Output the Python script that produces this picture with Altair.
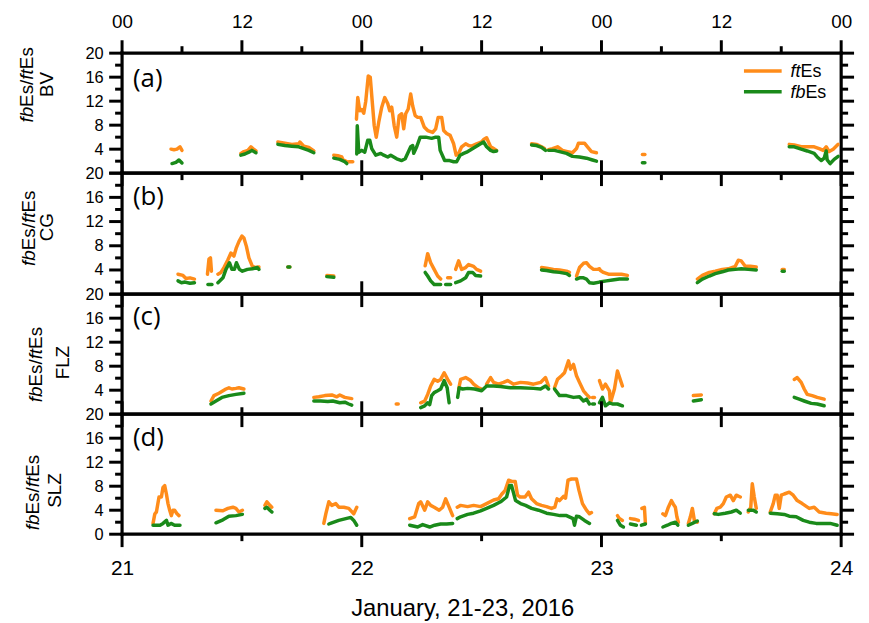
import altair as alt
import pandas as pd

# ---- data: (hours after 21 Jan 00:00 UT, frequency MHz); None = data gap ----
BV_ft = [(4.9,4.0),(5.2,3.9),(5.5,4.0),(5.8,4.4),(6.0,3.8), None,
 (11.9,3.3),(12.2,3.6),(12.6,3.8),(12.9,4.4),(13.1,4.1),(13.4,3.7), None,
 (15.6,5.2),(16.3,5.0),(17.0,4.8),(17.7,4.9),(17.8,5.2),(18.2,4.5),(18.7,4.3),(19.2,3.7), None,
 (21.2,3.0),(21.6,2.9),(22.0,2.7),(22.1,2.3),(22.5,1.9), None,
 (22.7,1.9),(23.1,1.9), None,
 (23.47,9.0),(23.6,12.6),(23.8,10.4),(24.0,10.6),(24.2,10.0),(24.4,12.0),(24.65,16.2),(24.85,16.0),(25.0,12.9),(25.25,7.9),
 (25.45,6.0),(25.7,8.5),(26.0,11.0),(26.3,12.6),(26.6,11.6),(26.8,10.4),(27.0,11.0),(27.25,7.9),(27.5,6.0),(27.75,9.6),
 (28.0,9.9),(28.2,7.4),(28.4,9.9),(28.65,10.7),(28.9,13.2),(29.1,11.2),(29.35,9.6),(29.6,9.3),(29.9,9.3),(30.25,7.7),
 (30.6,7.1),(31.1,6.8),(31.4,7.4),(31.65,9.3),(32.0,9.3),(32.2,7.1),(32.5,6.6),(32.85,6.3),(33.2,4.9),(33.45,3.0),
 (33.7,3.3),(34.0,4.4),(34.4,4.9),(34.7,4.6),(35.0,4.5),(35.5,4.9),(36.0,5.2),(36.2,5.6),(36.5,5.9),(36.9,4.4),
 (37.2,4.1),(37.5,3.8), None,
 (41.0,4.9),(41.5,4.8),(42.0,4.4),(42.3,4.1), None,
 (42.7,3.9),(43.1,4.1),(43.6,4.4),(44.1,3.8),(44.6,3.6),(45.1,3.4),(45.5,4.1),(45.7,5.0),(46.3,5.0),(46.6,4.4),(47.0,3.6),(47.5,3.4), None,
 (52.1,3.1),(52.35,3.1), None,
 (66.8,4.8),(67.3,4.7),(68.0,4.4),(68.6,4.4),(69.3,4.4),(69.8,4.1),(70.2,3.8),(70.5,4.4),(70.8,3.6),(71.2,4.0),(71.7,4.8)]

BV_fb = [(5.0,1.6),(5.4,1.8),(5.7,2.2),(6.0,1.7), None,
 (11.9,3.0),(12.3,3.2),(12.7,3.5),(13.0,3.8),(13.4,3.4), None,
 (15.6,4.8),(16.3,4.6),(17.0,4.5),(17.7,4.4),(18.2,4.1),(18.7,3.8),(19.2,3.4), None,
 (21.2,2.5),(21.8,2.3),(22.3,1.9),(22.5,1.6), None,
 (23.5,3.2),(23.55,7.9),(23.7,3.5),(24.0,3.8),(24.3,3.5),(24.6,5.5),(24.8,5.5),(25.0,4.1),(25.4,3.0),(25.9,3.3),
 (26.2,3.0),(26.6,2.7),(26.9,3.0),(27.2,2.7),(27.5,2.4),(28.0,2.1),(28.35,2.4),(28.9,4.4),(29.1,4.6),(29.2,3.3),
 (29.5,4.4),(29.85,6.0),(30.4,6.0),(31.0,5.8),(31.4,6.0),(31.7,6.0),(31.85,3.8),(32.3,2.1),(32.8,2.1),(33.2,1.9),
 (33.5,1.9),(33.85,3.0),(34.2,3.3),(34.5,3.5),(35.2,4.2),(35.9,4.9),(36.2,5.2),(36.5,4.4),(36.9,3.8),(37.2,3.6),(37.5,3.7), None,
 (41.0,4.7),(41.5,4.6),(42.0,4.3),(42.4,3.8), None,
 (42.7,3.8),(43.3,3.8),(43.8,3.6),(44.5,3.3),(45.1,2.8),(45.8,2.7),(46.5,2.5),(47.1,2.2),(47.5,2.0), None,
 (52.1,1.75),(52.35,1.75), None,
 (66.8,4.4),(67.3,4.4),(68.0,4.0),(68.6,3.7),(69.3,3.3),(69.6,2.7),(70.0,2.1),(70.3,2.5),(70.5,3.7),(70.6,2.2),(70.9,1.6),(71.3,2.3),(71.7,2.8)]

CG_ft = [(5.6,3.3),(6.1,3.1),(6.4,2.6),(6.8,2.7),(7.25,2.5), None,
 (8.55,3.3),(8.7,5.8),(8.85,6.0),(8.95,3.8), None,
 (9.6,3.3),(9.9,3.6),(10.2,4.4),(10.6,5.7),(10.9,6.8),(11.2,6.3),(11.45,7.7),(11.7,8.7),(12.0,9.6),(12.2,9.3),(12.45,7.9),(12.7,6.0),(13.05,4.6),(13.4,4.4),(13.7,4.5), None,
 (16.6,4.5),(16.8,4.5), None,
 (20.5,3.1),(21.2,3.0), None,
 (30.35,4.7),(30.6,6.7),(30.9,5.2),(31.25,4.1),(31.6,3.0),(31.9,2.5), None,
 (32.6,2.7),(32.9,2.7), None,
 (33.4,4.1),(33.7,5.5),(34.0,4.1),(34.4,4.4),(34.7,4.9),(35.2,4.6),(35.5,4.1),(35.9,3.8), None,
 (42.0,4.4),(42.5,4.3),(43.2,4.1),(43.8,4.0),(44.5,3.8),(44.8,3.6), None,
 (45.5,3.0),(45.8,4.4),(46.2,5.1),(46.5,5.2),(46.8,4.6),(47.2,4.1),(47.6,4.1),(47.8,4.2),(47.9,3.9),(48.2,3.6),(48.7,3.3),(49.4,3.3),(50.0,3.3),(50.6,3.1), None,
 (57.6,2.5),(58.1,3.1),(58.8,3.6),(59.4,3.8),(60.1,4.1),(60.7,4.2),(61.4,4.6),(61.7,5.6),(62.0,5.5),(62.4,4.6),(62.9,4.6),(63.5,4.5), None,
 (66.1,4.1),(66.3,4.1)]

CG_fb = [(5.6,2.2),(5.95,1.9),(6.3,2.0),(6.8,1.8),(7.25,1.9), None,
 (8.6,1.6),(9.0,1.6), None,
 (9.6,1.9),(10.1,2.7),(10.4,4.1),(10.75,5.2),(11.0,4.1),(11.25,4.1),(11.45,5.2),(11.75,4.1),(12.05,3.8),(12.55,4.1),(13.05,4.2),(13.55,4.4),(13.7,4.1), None,
 (16.6,4.5),(16.8,4.5), None,
 (20.5,2.9),(21.2,2.8), None,
 (30.35,3.6),(30.6,3.0),(30.9,2.2),(31.25,1.6),(31.9,1.6), None,
 (32.4,1.6),(32.9,1.6), None,
 (33.4,1.9),(33.9,2.2),(34.4,2.7),(34.7,3.6),(35.1,3.6),(35.4,3.1),(35.9,3.0), None,
 (42.0,4.0),(42.5,3.9),(43.2,3.7),(43.8,3.6),(44.5,3.4),(44.8,3.1), None,
 (45.5,2.5),(45.8,2.7),(46.2,2.7),(46.5,2.5),(46.8,1.9),(47.2,1.8),(47.8,2.0),(48.5,2.2),(49.1,2.35),(49.8,2.5),(50.6,2.5), None,
 (57.6,1.9),(58.1,2.5),(58.8,3.0),(59.4,3.4),(60.1,3.7),(60.7,4.0),(61.4,4.1),(62.0,4.2),(62.7,4.1),(63.5,4.0), None,
 (66.1,3.8),(66.3,3.8)]

FLZ_ft = [(8.9,2.2),(9.2,3.1),(9.7,3.5),(10.4,4.2),(10.7,4.4),(11.0,4.2),(11.4,4.3),(11.7,4.4),(12.2,4.2), None,
 (19.2,2.8),(19.7,2.9),(20.3,3.1),(21.0,3.2),(21.5,2.9),(21.8,3.2),(22.3,2.8),(23.0,2.6), None,
 (27.45,1.7),(27.65,1.7), None,
 (29.9,1.9),(30.3,2.2),(30.6,3.3),(30.9,4.7),(31.25,5.8),(31.6,5.5),(31.9,5.8),(32.25,6.9),(32.6,5.8),(32.9,5.0), None,
 (33.7,4.2),(33.9,5.8),(34.4,6.1),(34.9,5.6),(35.2,5.0),(35.7,4.4),(36.0,4.2), None,
 (36.5,5.0),(36.9,6.1),(37.2,5.3),(37.7,5.0),(38.2,5.3),(38.6,5.6),(39.2,5.0),(39.9,5.3),(40.6,5.2),(41.2,5.0),(41.9,5.3),(42.4,6.1),(42.7,4.7), None,
 (43.3,4.4),(43.6,5.8),(44.0,6.4),(44.3,6.9),(44.7,8.9),(44.9,7.5),(45.2,8.3),(45.5,6.4),(45.8,5.3),(46.2,3.9),(46.5,3.3),(46.8,2.8), None,
 (47.1,2.8),(47.3,2.8), None,
 (47.8,5.6),(48.1,4.2),(48.4,5.0),(48.8,3.9),(48.9,1.9),(49.3,4.2),(49.6,7.2),(50.1,4.7), None,
 (57.2,3.1),(58.0,3.2), None,
 (67.3,5.8),(67.6,6.1),(68.0,5.3),(68.3,4.2),(68.6,3.3),(69.1,3.1),(69.6,2.8),(70.3,2.5)]

FLZ_fb = [(8.9,1.7),(9.4,2.2),(10.0,2.8),(10.7,3.1),(11.4,3.3),(12.2,3.5), None,
 (19.2,2.2),(19.9,2.2),(20.6,2.1),(21.1,2.2),(21.8,1.9),(22.3,2.0),(22.7,1.7),(23.0,1.5), None,
 (29.9,1.1),(30.3,1.4),(30.6,1.9),(30.8,1.6),(31.0,3.1),(31.25,3.6),(31.6,3.9),(31.9,4.2),(32.25,5.6),(32.55,4.4),(32.75,1.9), None,
 (33.6,2.8),(33.75,4.4),(34.1,4.2),(34.6,4.3),(35.3,4.2),(36.0,3.9),(36.5,4.7),(37.2,4.7),(37.9,4.6),(38.9,4.4),(39.9,4.4),(41.2,4.3),(41.9,4.2),(42.4,4.7),(42.7,4.2), None,
 (43.3,4.2),(43.8,3.1),(44.5,3.1),(45.2,2.8),(45.8,2.9),(46.2,2.2),(46.5,2.5),(46.8,1.7), None,
 (47.1,1.7),(47.3,1.7), None,
 (47.8,1.9),(48.1,2.8),(48.4,1.4),(48.8,1.9),(49.1,1.7),(49.6,1.7),(50.1,1.4), None,
 (57.2,2.2),(58.0,2.4), None,
 (67.3,2.8),(67.8,2.5),(68.3,2.2),(69.0,1.8),(69.6,1.7),(70.3,1.4)]

SLZ_ft = [(3.1,1.8),(3.28,3.4),(3.44,3.7),(3.7,6.2),(3.94,6.2),(4.1,7.8),(4.27,8.1),(4.44,6.7),(4.6,5.1),(4.77,4.0),(4.93,3.1),(5.1,4.0),(5.26,4.0),(5.5,3.4),(5.7,3.1), None,
 (9.4,4.0),(10.1,3.9),(10.6,4.3),(11.1,4.5),(11.4,4.3),(11.7,3.7),(12.05,4.0), None,
 (14.3,4.8),(14.5,5.4),(14.8,4.8),(15.0,4.5), None,
 (20.2,1.8),(20.4,3.4),(20.7,5.4),(21.0,4.8),(21.4,5.1),(21.7,4.5),(22.2,4.5),(22.7,4.3),(23.2,3.4),(23.5,4.5), None,
 (28.8,2.6),(29.3,2.9),(29.7,5.1),(29.9,5.4),(30.3,4.0),(30.6,5.4),(30.9,4.8),(31.25,4.5),(31.75,4.0),(32.1,4.5),(32.4,5.9),(32.75,4.5),(33.1,3.1), None,
 (33.56,4.5),(33.9,4.8),(34.6,4.6),(35.2,4.8),(35.9,4.6),(36.5,5.1),(37.2,5.7),(37.7,5.9),(38.03,6.7),(38.36,7.3),(38.7,9.0),(39.03,8.8),(39.36,8.8),(39.6,6.5),(39.85,6.2),(40.35,6.2),(40.7,7.0),(41.0,5.9),(41.5,5.1),(42.0,4.8),(42.5,4.6),(43.0,4.3),(43.33,4.5),(43.56,5.9),(43.8,5.6),(44.2,6.3),(44.4,6.0),(44.65,9.0),(45.0,9.2),(45.5,9.2),(45.75,7.3),(46.1,5.1),(46.5,4.0),(46.8,3.4),(47.0,3.6), None,
 (49.6,3.1),(49.8,2.6),(50.1,2.3), None,
 (50.9,2.6),(51.3,2.5),(51.7,2.3), None,
 (52.05,4.3),(52.3,4.5),(52.4,1.8), None,
 (54.15,3.4),(54.4,3.1),(54.7,4.5),(55.0,5.6),(55.2,5.0),(55.4,4.5),(55.55,2.9),(55.7,2.0), None,
 (56.7,1.8),(56.9,2.9),(57.1,4.3),(57.3,2.3),(57.6,2.0), None,
 (59.3,3.4),(59.55,4.3),(59.9,4.5),(60.2,5.1),(60.5,6.2),(60.9,6.5),(61.2,5.6),(61.5,6.5),(61.9,6.2), None,
 (62.7,3.7),(62.95,4.5),(63.1,8.4),(63.3,6.2),(63.5,4.3), None,
 (64.9,3.7),(65.2,5.1),(65.4,6.5),(65.6,6.5),(65.8,4.3),(66.0,6.5),(66.3,6.7),(66.8,7.0),(67.2,6.5),(67.6,5.6),(68.1,5.1),(68.8,4.3),(69.3,4.5),(69.8,3.7),(70.5,3.5),(71.0,3.4),(71.6,3.3)]

SLZ_fb = [(3.1,1.5),(3.8,1.5),(4.1,1.8),(4.45,2.3),(4.6,1.5),(4.9,1.8),(5.26,1.5),(5.8,1.5), None,
 (9.4,1.9),(10.1,2.4),(10.7,3.0),(11.4,3.1),(12.05,3.3), None,
 (14.3,4.3),(14.5,4.5),(14.8,4.0),(15.0,3.7), None,
 (20.7,1.7),(21.0,1.9),(21.7,2.3),(22.4,2.6),(22.9,2.8),(23.2,2.3),(23.5,1.5), None,
 (28.8,1.5),(29.6,1.2),(30.1,1.6),(30.8,1.2),(31.3,1.5),(31.9,1.7),(32.5,1.7),(33.1,1.8), None,
 (33.56,2.6),(33.9,2.9),(34.6,3.3),(35.2,3.5),(35.9,3.9),(36.5,4.3),(37.2,4.8),(37.9,5.4),(38.5,6.2),(38.8,8.1),(39.0,8.1),(39.4,5.6),(39.9,5.1),(40.4,4.8),(41.0,4.3),(41.7,4.0),(42.5,3.5),(43.2,3.3),(43.85,3.1),(44.5,3.1),(45.16,2.6),(45.3,1.5),(45.5,3.0),(45.8,2.9),(46.3,2.3),(46.8,1.8), None,
 (49.6,2.3),(49.9,1.5),(50.2,1.2), None,
 (50.9,1.7),(51.5,1.5), None,
 (52.0,1.5),(52.4,1.7), None,
 (54.15,1.2),(54.6,1.5),(55.0,1.8),(55.4,2.0),(55.65,1.5), None,
 (56.7,1.5),(57.1,1.8),(57.6,2.2), None,
 (59.3,3.4),(59.7,3.3),(60.4,3.5),(61.0,3.7),(61.5,4.0),(61.9,3.5), None,
 (62.7,4.0),(63.2,4.0),(63.5,3.7), None,
 (64.9,3.5),(65.6,3.4),(66.3,3.3),(66.8,3.0),(67.5,2.9),(68.2,2.3),(68.8,2.0),(69.5,1.8),(70.2,1.8),(70.9,1.8),(71.6,1.5)]

STATIONS = ["BV", "CG", "FLZ", "SLZ"]
LETTERS = ["(a)", "(b)", "(c)", "(d)"]
SERIES = {"BV": (BV_ft, BV_fb), "CG": (CG_ft, CG_fb), "FLZ": (FLZ_ft, FLZ_fb), "SLZ": (SLZ_ft, SLZ_fb)}

DAYS = [21, 22, 23, 24]
HALF = [21.5, 22.5, 23.5]
HOURS12 = [21, 21.5, 22, 22.5, 23, 23.5, 24]
QUARTER = [21.25, 21.75, 22.25, 22.75, 23.25, 23.75]
Y_MAJOR = [0, 4, 8, 12, 16, 20]
Y_LABELS_UPPER = [4, 8, 12, 16, 20]  # the 0 of upper panels sits under the "20" of the panel below
Y_MINOR = [2, 6, 10, 14, 18]
X_TITLE = "January, 21-23, 2016"

ORANGE = "#FF8C1A"
GREEN = "#1A8A1A"
FONT = "Liberation Sans"
W = 725


def to_rows(pairs, station, series):
    out, seg = [], 0
    for p in pairs:
        if p is None:
            seg += 1
            continue
        out.append({"station": station, "series": series, "seg": seg,
                    "x": 21 + p[0] / 24.0, "v": p[1]})
    return out


records = []
for st in STATIONS:
    ft, fb = SERIES[st]
    records += to_rows(ft, st, "ft") + to_rows(fb, st, "fb")
df = pd.DataFrame(records)

# Arial advance widths (em) for building the mixed italic titles
ADV = {"f": 0.278, "b": 0.556, "E": 0.667, "s": 0.5, "/": 0.278, "t": 0.278}


def width(txt, size):
    return sum(ADV[c] for c in txt) * size


PANELS = [
    dict(h=121, top=[(HOURS12, 13), (QUARTER, 7)], bottom=[(HOURS12, 13), (QUARTER, 7)],
         xaxis="top", t1=(-90, 32), t2=(-70, 31.5), ly=26, legend=True, ylab=Y_LABELS_UPPER),
    dict(h=122, top=[(DAYS, 13)], bottom=[(HOURS12, 13)],
         xaxis=None, t1=(-88, 55.5), t2=(-70, 54.5), ly=24, legend=False, ylab=Y_LABELS_UPPER),
    dict(h=121, top=[(DAYS, 13)], bottom=[(HOURS12, 13)],
         xaxis=None, t1=(-81, 71), t2=(-54, 69), ly=23, legend=False, ylab=Y_LABELS_UPPER),
    dict(h=121, top=[(DAYS, 13), (HALF, 7)], bottom=[(DAYS, 13), (HALF, 7)],
         xaxis="bottom", t1=(-84, 79), t2=(-62, 77), ly=24, legend=False, ylab=Y_MAJOR),
]


def text_layer(txt, x, y, size, style="normal", angle=0, align="left",
               baseline="alphabetic", font=FONT):
    kw = dict(align=align, baseline=baseline, font=font, fontSize=size,
              fontStyle=style, color="black")
    if angle:
        kw["angle"] = angle
    return alt.Chart(pd.DataFrame({"t": [txt]})).mark_text(**kw).encode(
        x=alt.value(x), y=alt.value(y), text="t:N")


def make_panel(i):
    st, cfg = STATIONS[i], PANELS[i]
    H = cfg["h"]
    d = df[df.station == st]
    xs = alt.Scale(domain=[21, 24], nice=False, zero=False)
    ys = alt.Scale(domain=[0, 20], nice=False)
    common = dict(ticks=False, tickSize=0, domain=False, grid=False,
                  labelFlush=False, labelOverlap=False, labelColor="black",
                  labelFont=FONT)
    if cfg["xaxis"] == "top":
        xaxis = alt.Axis(orient="top", values=HOURS12,
                         labelExpr="datum.value % 1 == 0 ? '00' : '12'",
                         labelFontSize=19, labelPadding=26,
                         labelBaseline="alphabetic", title=None, **common)
    elif cfg["xaxis"] == "bottom":
        xaxis = alt.Axis(orient="bottom", values=DAYS, format="d",
                         labelFontSize=21, labelPadding=41,
                         labelBaseline="alphabetic", title=X_TITLE,
                         titleFont=FONT, titleFontSize=24,
                         titleFontWeight="normal", titleColor="black",
                         titleX=343, titleY=82, titleBaseline="alphabetic",
                         titleAlign="center", **common)
    else:
        xaxis = None
    yaxis = alt.Axis(values=cfg["ylab"], labelFontSize=16.5, labelPadding=19,
                     title=None, **common)
    xenc = alt.X("x:Q", scale=xs, axis=xaxis)
    yenc = alt.Y("v:Q", scale=ys, axis=yaxis)

    layers = []
    rule = dict(color="black", strokeWidth=3)
    one = pd.DataFrame({"k": [0]})
    # frame
    frame = dict(color="black", strokeWidth=3.2, strokeCap="square")
    layers.append(alt.Chart(one).mark_rule(**frame).encode(
        x=alt.value(0), x2=alt.value(W), y=alt.value(0)))
    layers.append(alt.Chart(one).mark_rule(**frame).encode(
        x=alt.value(0), x2=alt.value(W), y=alt.value(H)))
    layers.append(alt.Chart(one).mark_rule(**frame).encode(
        x=alt.value(0), y=alt.value(0), y2=alt.value(H)))
    layers.append(alt.Chart(one).mark_rule(**frame).encode(
        x=alt.value(W), y=alt.value(0), y2=alt.value(H)))
    # x ticks (outward, top and bottom)
    for vals, L in cfg["top"]:
        layers.append(alt.Chart(pd.DataFrame({"x": vals})).mark_rule(**rule).encode(
            x=xenc, y=alt.value(0), y2=alt.value(-L)))
    for vals, L in cfg["bottom"]:
        layers.append(alt.Chart(pd.DataFrame({"x": vals})).mark_rule(**rule).encode(
            x=xenc, y=alt.value(H), y2=alt.value(H + L)))
    # y ticks (outward, left and right)
    for vals, L in [(Y_MAJOR, 13), (Y_MINOR, 7)]:
        layers.append(alt.Chart(pd.DataFrame({"v": vals})).mark_rule(**rule).encode(
            y=yenc, x=alt.value(0), x2=alt.value(-L)))
        layers.append(alt.Chart(pd.DataFrame({"v": vals})).mark_rule(**rule).encode(
            y=yenc, x=alt.value(W), x2=alt.value(W + L)))
    # data lines
    line = dict(strokeWidth=3.5, strokeCap="round", strokeJoin="round")
    layers.append(alt.Chart(d[d.series == "ft"]).mark_line(color=ORANGE, **line).encode(
        x=xenc, y=yenc, detail="seg:N", order="x:Q"))
    layers.append(alt.Chart(d[d.series == "fb"]).mark_line(color=GREEN, **line).encode(
        x=xenc, y=yenc, detail="seg:N", order="x:Q"))
    # panel letter
    layers.append(text_layer(LETTERS[i], 11, cfg["ly"], 26, baseline="middle",
                             font="Open Sans"))
    # y title: "fbEs/ftEs" (fb, ft italic) and station name
    size = 19
    x1, c1 = cfg["t1"]
    pieces = [("fb", "italic"), ("Es/", "normal"), ("ft", "italic"), ("Es", "normal")]
    total = sum(width(p, size) for p, _ in pieces)
    ypos = c1 + total / 2
    for p, style in pieces:
        layers.append(text_layer(p, x1, ypos, size, style=style, angle=270))
        ypos -= width(p, size)
    x2, c2 = cfg["t2"]
    layers.append(text_layer(st, x2, c2, size, angle=270, align="center"))
    # legend
    if cfg["legend"]:
        for col, yy, lab in [(ORANGE, 18, "ft"), (GREEN, 39, "fb")]:
            layers.append(alt.Chart(pd.DataFrame({"k": [lab]})).mark_rule(
                color=col, strokeWidth=3.5).encode(
                x=alt.value(627), x2=alt.value(665), y=alt.value(yy)))
            layers.append(text_layer(lab, 674, yy + 6.5, 18, style="italic"))
            layers.append(text_layer("Es", 674 + width(lab, 18), yy + 6.5, 18))
    return alt.layer(*layers).properties(width=W, height=H)


chart = alt.vconcat(*[make_panel(i) for i in range(4)], spacing=0, bounds="flush").configure_view(
    stroke="transparent").properties(
    padding={"left": 9, "top": 1, "right": 5, "bottom": 0}).configure(background="white")

chart.save("out.html", embed_options={"renderer": "svg", "actions": False})
